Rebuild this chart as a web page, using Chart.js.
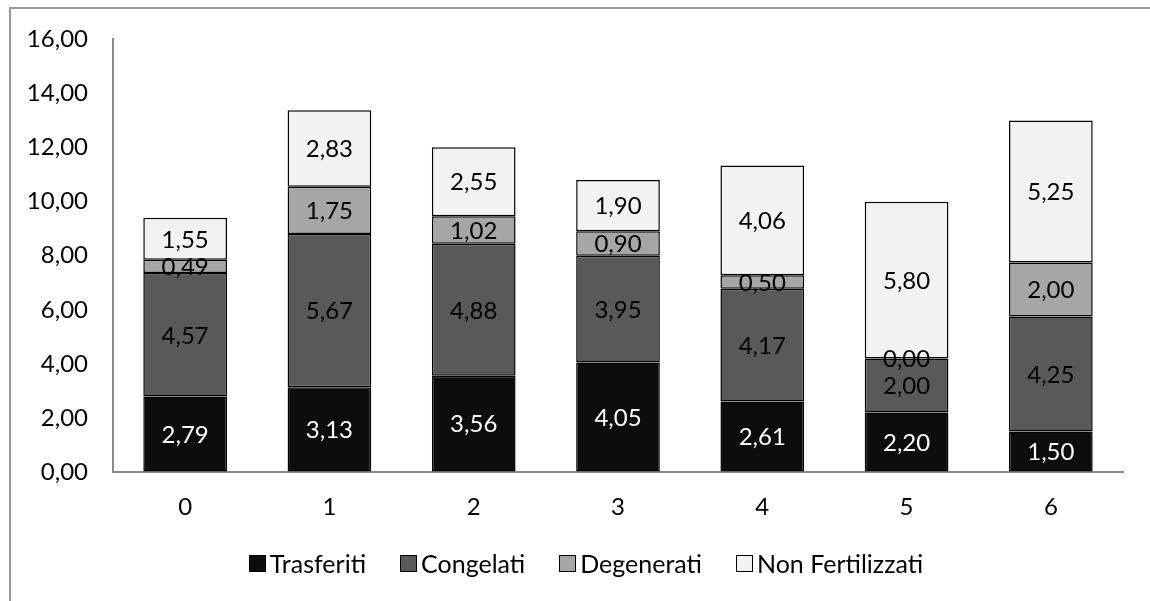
<!DOCTYPE html>
<html>
<head>
<meta charset="utf-8">
<script src="https://cdn.jsdelivr.net/npm/chart.js@4/dist/chart.umd.min.js"></script>
<style>
  html, body { margin: 0; padding: 0; background: #fff; }
  #wrap { position: relative; width: 1150px; height: 601px; overflow: hidden; }
  #frame { position: absolute; left: 9px; top: 7px; width: 1300px; height: 800px;
           border-left: 2px solid #999; border-top: 2px solid #999; box-sizing: border-box; }
  #chart { position: absolute; left: 0; top: 0; }
  #legend { position: absolute; top: 548px; left: 0; width: 1172px; display: flex; justify-content: center;
            font-family: Lato, sans-serif; font-size: 25px; color: #000; }
  .item { display: flex; align-items: center; margin: 0 17px; }
  .box { width: 15px; height: 15px; border: 1px solid #000; margin-right: 4px; }
</style>
</head>
<body>
<div id="wrap">
  <div id="frame"></div>
  <canvas id="chart" width="1150" height="601"></canvas>
  <div id="legend"></div>
</div>
<script>
// data
const categories = ['0', '1', '2', '3', '4', '5', '6'];
const trasferiti = [2.79, 3.13, 3.56, 4.05, 2.61, 2.20, 1.50];
const congelati = [4.57, 5.67, 4.88, 3.95, 4.17, 2.00, 4.25];
const degenerati = [0.49, 1.75, 1.02, 0.90, 0.50, 0.00, 2.00];
const nonFertilizzati = [1.55, 2.83, 2.55, 1.90, 4.06, 5.80, 5.25];
const seriesNames = ['Trasferiti', 'Congelati', 'Degenerati', 'Non Fertilizzati'];
const seriesColors = ['#0d0d0d', '#595959', '#a6a6a6', '#f2f2f2'];
const labelColors = ['#ffffff', '#000000', '#000000', '#000000'];

const fmt = v => v.toFixed(2).replace('.', ',');
const FONT = 'Lato, sans-serif';

// draws the value in the middle of each segment
const barLabels = {
    id: 'barLabels',
    afterDatasetsDraw(chart) {
        const ctx = chart.ctx;
        ctx.save();
        ctx.font = '24px ' + FONT;
        ctx.textAlign = 'center';
        ctx.textBaseline = 'middle';
        chart.data.datasets.forEach((ds, i) => {
            const meta = chart.getDatasetMeta(i);
            meta.data.forEach((bar, j) => {
                ctx.fillStyle = labelColors[i];
                ctx.fillText(fmt(ds.data[j]), bar.x, (bar.y + bar.base) / 2 + 1);
            });
        });
        ctx.restore();
    }
};

const allSeries = [trasferiti, congelati, degenerati, nonFertilizzati];

new Chart(document.getElementById('chart'), {
    type: 'bar',
    data: {
        labels: categories,
        datasets: allSeries.map((d, i) => ({
            label: seriesNames[i],
            data: d,
            backgroundColor: seriesColors[i],
            borderColor: '#000',
            borderWidth: 1.5,
            borderSkipped: false,
            barPercentage: 0.58,
            categoryPercentage: 1
        }))
    },
    options: {
        responsive: false,
        animation: false,
        layout: { padding: { left: 0, right: 27, top: 37, bottom: 0 } },
        plugins: { legend: { display: false }, tooltip: { enabled: false } },
        scales: {
            x: {
                stacked: true,
                grid: { display: true, color: 'rgba(0,0,0,0)', drawTicks: false },
                border: { color: '#8a8a8a', width: 2 },
                ticks: { color: '#000', font: { family: FONT, size: 24 }, padding: 21 },
                afterFit: s => { s.height = 129; }
            },
            y: {
                stacked: true,
                min: 0,
                max: 16,
                grid: { display: true, color: 'rgba(0,0,0,0)', drawTicks: false },
                border: { color: '#8a8a8a', width: 2 },
                ticks: { stepSize: 2, color: '#000', font: { family: FONT, size: 24 }, padding: 25,
                         callback: v => fmt(v) },
                afterFit: s => { s.width = 113; }
            }
        }
    },
    plugins: [barLabels]
});

// legend as html
const legend = document.getElementById('legend');
seriesNames.forEach((name, i) => {
    const item = document.createElement('div');
    item.className = 'item';
    item.innerHTML = '<span class="box" style="background:' + seriesColors[i] + '"></span>' + name;
    legend.appendChild(item);
});
</script>
</body>
</html>
